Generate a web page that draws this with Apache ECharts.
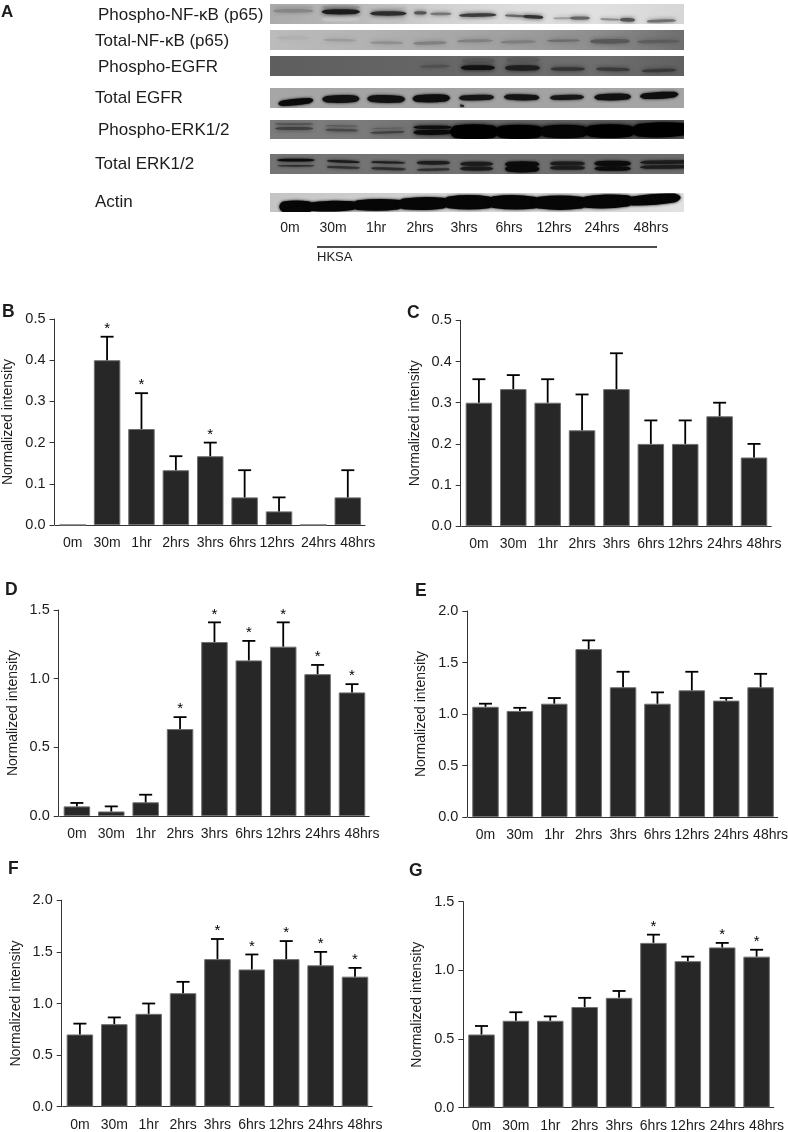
<!DOCTYPE html>
<html><head><meta charset="utf-8">
<style>html,body{margin:0;padding:0;background:#fff}#c{width:788px;height:1132px}</style>
<script src="https://cdn.jsdelivr.net/npm/echarts@6/dist/echarts.min.js"></script>
</head><body><div id="c"></div>
<script>
const categories = ['0m','30m','1hr','2hrs','3hrs','6hrs','12hrs','24hrs','48hrs'];
const blotNames = ['Phospho-NF-κB (p65)','Total-NF-κB (p65)','Phospho-EGFR','Total EGFR','Phospho-ERK1/2','Total ERK1/2','Actin'];
const yAxisTitle = 'Normalized intensity';

const valuesB = [0,0.4,0.233,0.133,0.167,0.067,0.033,0,0.067];
const errTopB = [null,0.457,0.32,0.167,0.2,0.133,0.067,null,0.133];
const starsB  = [0,1,1,0,1,0,0,0,0];
const valuesC = [0.3,0.333,0.3,0.233,0.333,0.2,0.2,0.267,0.167];
const errTopC = [0.357,0.367,0.357,0.32,0.42,0.257,0.257,0.3,0.2];
const starsC  = [0,0,0,0,0,0,0,0,0];
const valuesD = [0.07,0.033,0.1,0.633,1.267,1.133,1.233,1.033,0.9];
const errTopD = [0.095,0.07,0.155,0.72,1.41,1.275,1.41,1.1,0.96];
const starsD  = [0,0,0,1,1,1,1,1,1];
const valuesE = [1.07,1.03,1.1,1.63,1.26,1.1,1.23,1.13,1.26];
const errTopE = [1.1,1.06,1.155,1.715,1.41,1.21,1.41,1.155,1.39];
const starsE  = [0,0,0,0,0,0,0,0,0];
const valuesF = [0.7,0.8,0.9,1.1,1.43,1.33,1.43,1.37,1.26];
const errTopF = [0.805,0.865,1.0,1.21,1.625,1.475,1.605,1.5,1.345];
const starsF  = [0,0,0,0,1,1,1,1,1];
const valuesG = [0.533,0.633,0.633,0.733,0.8,1.2,1.067,1.167,1.1];
const errTopG = [0.595,0.695,0.665,0.8,0.85,1.26,1.1,1.2,1.15];
const starsG  = [0,0,0,0,0,1,0,1,1];

// blot bands, scan units: [xStart, xEnd, yLeft, yRight, thickness, grey]
const bands1 = [[40,160,22,22,8,'#a6a6a6'],[185,300,21,21,9,'#9c9c9c'],[185,300,58,58,10,'#c4c4c4'],[330,440,24,24,8,'#bcbcbc'],[330,440,60,60,10,'#c0c0c0'],[40,160,33,33,9,'#868686'],[185,300,36,36,13,'#1c1c1c'],[330,440,41,41,11,'#2c2c2c'],[462,500,39,39,8,'#555'],[510,575,42,42,7,'#777'],[597,710,47,45,9,'#3c3c3c'],[735,800,47,50,6,'#666'],[790,850,50,53,9,'#333'],[880,940,56,55,5,'#a0a0a0'],[930,990,55,55,8,'#666'],[1020,1080,58,60,5,'#8c8c8c'],[1080,1125,60,61,9,'#555'],[1160,1248,65,62,8,'#707070']];
const bands2 = [[50,150,112,112,8,'#b0b0b0'],[190,290,118,120,6,'#9c9c9c'],[330,430,126,127,7,'#909090'],[460,560,129,126,8,'#808080'],[590,700,122,120,7,'#808080'],[720,830,125,123,7,'#7e7e7e'],[860,960,121,120,6,'#6c6c6c'],[990,1110,123,122,11,'#585858'],[1130,1260,124,122,8,'#5c5c5c']];
const bands3 = [[480,570,200,198,7,'#505050'],[605,705,182,182,12,'#575757'],[602,705,203,203,12,'#111'],[738,840,180,180,12,'#5a5a5a'],[735,840,204,204,13,'#1e1e1e'],[872,975,207,207,9,'#333'],[1008,1110,207,209,9,'#3a3a3a'],[1145,1250,213,210,8,'#383838']];
const bands4 = [[55,160,310,300,16,'#0a0a0a'],[187,298,297,295,19,'#111'],[322,435,295,297,19,'#111'],[458,570,295,293,20,'#0e0e0e'],[597,702,293,291,14,'#161616'],[732,838,290,292,15,'#141414'],[870,972,292,290,13,'#181818'],[1003,1113,291,289,17,'#111'],[1140,1255,288,282,17,'#0e0e0e'],[600,612,315,317,6,'#222']];
const bands5 = [[45,160,42,42,5,'#555'],[45,160,56,56,7,'#404040'],[195,295,47,49,4,'#5e5e5e'],[195,295,60,62,7,'#484848'],[330,435,56,54,3,'#606060'],[330,435,69,66,6,'#404040'],[460,575,52,52,9,'#111'],[460,575,68,67,13,'#0a0a0a'],[560,1272,64,62,18,'#141414'],[570,715,66,66,38,'#000'],[705,850,66,66,36,'#000'],[840,985,65,65,34,'#050505'],[975,1125,64,64,34,'#000'],[1115,1290,62,58,38,'#000']];
const bands6 = [[50,165,150,150,7,'#0c0c0c'],[50,165,167,167,4,'#2c2c2c'],[200,300,152,156,6,'#1c1c1c'],[200,300,170,173,6,'#303030'],[333,438,156,158,5,'#1c1c1c'],[333,438,174,177,6,'#2c2c2c'],[470,570,158,158,9,'#1c1c1c'],[470,570,179,177,6,'#303030'],[600,700,161,161,10,'#1c1c1c'],[600,700,175,175,10,'#1c1c1c'],[735,838,162,162,14,'#0c0c0c'],[735,838,176,176,17,'#0a0a0a'],[870,975,160,160,10,'#1c1c1c'],[870,975,173,173,9,'#1c1c1c'],[1003,1113,160,160,13,'#0c0c0c'],[1003,1113,175,175,11,'#0c0c0c'],[1140,1290,157,155,9,'#1c1c1c'],[1140,1290,171,169,9,'#1c1c1c']];
const bands7 = [[58,160,291,291,33,'#060606'],[140,295,291,287,27,'#060606'],[275,432,286,284,30,'#060606'],[412,568,282,279,33,'#060606'],[548,705,277,277,37,'#060606'],[682,842,276,278,37,'#060606'],[818,982,278,278,37,'#060606'],[958,1122,277,272,35,'#060606'],[1098,1262,274,262,28,'#060606']];

const blotRows = [
 {bands:bands1, top:4,  h:20, scan:[12,73],  bg:['#ababab','#b8b8b8','#d0d0d0','#dcdcdc','#e0e0e0','#d6d6d6'],blur:4},
 {bands:bands2, top:30, h:20, scan:[89,148], bg:['#bcbcbc','#b4b4b4','#aaaaaa','#9e9e9e','#8c8c8c','#6e6e6e'],blur:5},
 {bands:bands3, top:56, h:20, scan:[168,228],bg:['#5e5e5e','#626262','#666666','#6c6c6c','#6e6e6e','#606060'],blur:4},
 {bands:bands4, top:88, h:20, scan:[263,323],bg:['#a6a6a6','#a4a4a4','#a2a2a2','#a2a2a2','#a4a4a4','#a4a4a4'],blur:3},
 {bands:bands5, top:120,h:19, scan:[30,88],  bg:['#7c7c7c','#7c7c7c','#707070','#666666','#606060','#5c5c5c'],blur:4},
 {bands:bands6, top:154,h:20, scan:[132,191],bg:['#747474','#747474','#727272','#707070','#6c6c6c','#6c6c6c'],blur:3},
 {bands:bands7, top:193,h:19, scan:[248,307],bg:['#c4c4c4','#cccccc','#d4d4d4','#d8d8d8','#d8d8d8','#e2e2e2'],blur:3}
];
const blotLabelLeft = [98,95,98,95,98,95,95];
const blotLabelMid  = [15,41,67,98,130,164,202];
const laneLabelX = [290,333,376,420,464,509,554,602,651];

const panels = [
 {letter:'B',vals:valuesB,err:errTopB,stars:starsB,max:0.5,step:0.1,left:54.5, top:319,  h:206, lx:2,  ly:312},
 {letter:'C',vals:valuesC,err:errTopC,stars:starsC,max:0.5,step:0.1,left:460.7,top:320.3,h:206, lx:407,ly:313},
 {letter:'D',vals:valuesD,err:errTopD,stars:starsD,max:1.5,step:0.5,left:58.7, top:610,  h:206, lx:5,  ly:590},
 {letter:'E',vals:valuesE,err:errTopE,stars:starsE,max:2.0,step:0.5,left:467.3,top:611,  h:206, lx:415,ly:591},
 {letter:'F',vals:valuesF,err:errTopF,stars:starsF,max:2.0,step:0.5,left:61.7, top:900.3,h:206.4,lx:8, ly:869},
 {letter:'G',vals:valuesG,err:errTopG,stars:starsG,max:1.5,step:0.5,left:463.3,top:901.7,h:206, lx:409,ly:871}
];
const FONT='"Liberation Sans",Arial,sans-serif', INK='#1c1c1c';

const grid=[],xAxis=[],yAxis=[],series=[];
function catData(letter){
  const shift = {'24hrs':5,'48hrs':10};
  if(letter==='B'){shift['6hrs']=-2;shift['12hrs']=-2;}
  return categories.map(c=>{
    const s=shift[c]||0;
    if(!s) return c;
    return {value:c,textStyle:{padding:s>0?[0,0,0,2*s]:[0,-2*s,0,0]}};
  });
}
panels.forEach(p=>{
  const i=grid.length;
  grid.push({left:p.left+1,top:p.top,width:309.5,height:p.h,outerBoundsMode:'none'});
  xAxis.push({type:'category',gridIndex:i,data:catData(p.letter),
    axisLine:{lineStyle:{color:'#333',width:1}},axisTick:{alignWithLabel:true,length:5,lineStyle:{color:'#333'}},
    axisLabel:{interval:0,margin:11,color:INK,fontSize:14,fontFamily:FONT,hideOverlap:false}});
  yAxis.push({type:'value',gridIndex:i,min:0,max:p.max,interval:p.step,offset:1,splitLine:{show:false},
    name:yAxisTitle,nameLocation:'middle',nameGap:39,nameMoveOverlap:false,nameTextStyle:{color:INK,fontSize:14,fontFamily:FONT},
    axisLine:{show:true,lineStyle:{color:'#333',width:1}},axisTick:{show:true,length:5,lineStyle:{color:'#333'}},
    axisLabel:{margin:9,color:INK,fontSize:14.5,fontFamily:FONT,formatter:v=>v.toFixed(1)}});
  series.push({type:'bar',xAxisIndex:i,yAxisIndex:i,data:p.vals,barWidth:26.5,silent:true,
    itemStyle:{color:'#272727',borderColor:'#707070',borderWidth:1},z:2});
  series.push({type:'custom',xAxisIndex:i,yAxisIndex:i,z:3,silent:true,clip:false,
    data:p.err.map((e,k)=>[k,p.vals[k],e,p.stars[k]]),
    encode:{x:0,y:2},
    renderItem(params,api){
      const k=api.value(0), e=api.value(2);
      if(e==null||isNaN(e)) return {type:'group',children:[]};
      const b=api.coord([k,api.value(1)]), t=api.coord([k,e]);
      const st={stroke:'#000',lineWidth:1.8,fill:null};
      const ch=[
        {type:'line',shape:{x1:b[0],y1:b[1],x2:t[0],y2:t[1]},style:st},
        {type:'line',shape:{x1:t[0]-6.5,y1:t[1],x2:t[0]+6.5,y2:t[1]},style:st}];
      if(api.value(3)) ch.push({type:'text',style:{text:'*',x:t[0],y:t[1]-8,align:'center',verticalAlign:'middle',fill:'#000',font:'15px '+FONT}});
      return {type:'group',children:ch};
    }});
});

// panel A blot strips
blotRows.forEach(r=>{
  const i=grid.length;
  grid.push({left:270,top:r.top,width:414,height:r.h,outerBoundsMode:'none'});
  xAxis.push({type:'value',gridIndex:i,min:30,max:1272,show:false});
  yAxis.push({type:'value',gridIndex:i,min:r.scan[0],max:r.scan[1],inverse:true,show:false,splitLine:{show:false}});
  const stops=r.bg.map((c,k)=>({offset:k/(r.bg.length-1),color:c}));
  series.push({type:'custom',xAxisIndex:i,yAxisIndex:i,silent:true,z:1,clip:true,
    data:[[30,1272,r.scan[0],r.scan[1]]],encode:{x:[0,1],y:[2,3]},
    renderItem(params,api){
      const a=api.coord([api.value(0),api.value(2)]),b=api.coord([api.value(1),api.value(3)]);
      return {type:'rect',shape:{x:a[0],y:a[1],width:b[0]-a[0],height:b[1]-a[1]},
        style:{fill:new echarts.graphic.LinearGradient(0,0,1,0,stops)}};
    }});
  series.push({type:'custom',xAxisIndex:i,yAxisIndex:i,silent:true,z:2,clip:true,
    data:r.bands,encode:{x:[0,1],y:[2,3]},
    renderItem(params,api){
      const x0=api.value(0),x1=api.value(1),yl=api.value(2),yr=api.value(3),th=api.value(4)/2;
      const col=r.bands[params.dataIndex][5];
      const xa=x0+(x1-x0)*0.12,xb=x1-(x1-x0)*0.12;
      const f=(xa-x0)/(x1-x0), ya=yl+(yr-yl)*f, yb=yr-(yr-yl)*f;
      const pts=[[x0,yl],[xa,ya-th],[xb,yb-th],[x1,yr],[xb,yb+th],[xa,ya+th]].map(q=>api.coord(q));
      return {type:'polygon',shape:{points:pts,smooth:0.35},
        style:{fill:col,shadowBlur:r.blur,shadowColor:col}};
    }});
});

// text and rule of panel A, panel letters
const graphic=[];
const txt=(text,x,y,size,o={})=>graphic.push({type:'text',silent:true,x,y,
  style:{text,font:(o.bold?'bold ':'')+size+'px '+FONT,fill:INK,align:o.align||'left',verticalAlign:'middle'}});
txt('A',1,12,17,{bold:true});
blotNames.forEach((n,k)=>txt(n,blotLabelLeft[k],blotLabelMid[k],17));
categories.forEach((c,k)=>txt(c,laneLabelX[k],228,14,{align:'center'}));
txt('HKSA',317,257,13);
graphic.push({type:'line',silent:true,shape:{x1:317,y1:247,x2:657,y2:247},style:{stroke:'#111',lineWidth:1.6}});
panels.forEach(p=>txt(p.letter,p.lx,p.ly,17.5,{bold:true}));

const chart=echarts.init(document.getElementById('c'),null,{renderer:'canvas'});
chart.setOption({animation:false,backgroundColor:'#fff',tooltip:{show:false},grid,xAxis,yAxis,series,graphic});
</script></body></html>
